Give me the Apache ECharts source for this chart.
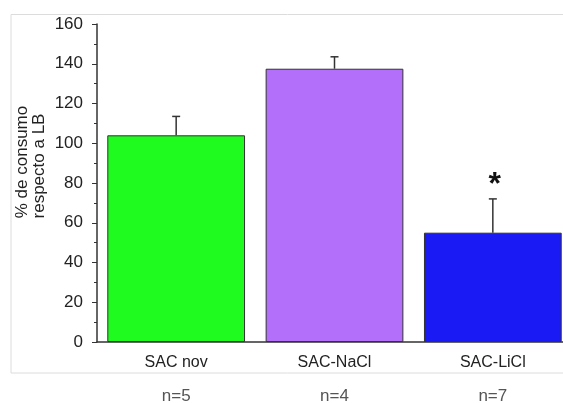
<!DOCTYPE html>
<html>
<head>
<meta charset="utf-8">
<script src="https://cdn.jsdelivr.net/npm/echarts@6/dist/echarts.min.js"></script>
<style>
  html, body { margin: 0; padding: 0; background: #fff; }
  #chart { width: 563px; height: 403px; }
</style>
</head>
<body>
<div id="chart"></div>
<script>
// datos
var categories = ["SAC nov", "SAC-NaCl", "SAC-LiCl"];
var nValues = [5, 4, 7];
var means = [104, 137.5, 55];
var errors = [9.5, 6, 17];
var marks = ["", "", "*"];
var barColors = ["#1ffa1f", "#b46ffa", "#1a1af5"];

var myChart = echarts.init(document.getElementById("chart"));

var barData = [];
var errData = [];
for (var i = 0; i < categories.length; i++) {
  barData.push({ value: means[i], itemStyle: { color: barColors[i] } });
  errData.push([i, means[i], errors[i]]);
}

var option = {
  animation: false,
  textStyle: { fontFamily: "Liberation Sans" },
  graphic: [
    {
      type: "rect",
      shape: { x: 11, y: 14.5, width: 560, height: 358.5 },
      style: { fill: "none", stroke: "#dcdcdc", lineWidth: 1 },
      silent: true,
      z: -1
    },
    {
      type: "text",
      x: 22, y: 162, rotation: Math.PI / 2,
      style: { text: "% de consumo", fontSize: 17, fill: "#222", align: "center", verticalAlign: "middle", fontFamily: "Liberation Sans" }
    },
    {
      type: "text",
      x: 39, y: 166, rotation: Math.PI / 2,
      style: { text: "respecto a LB", fontSize: 17, fill: "#222", align: "center", verticalAlign: "middle", fontFamily: "Liberation Sans" }
    }
  ],
  grid: { left: 97, top: 24, width: 475, height: 318, outerBoundsMode: "none" },
  xAxis: {
    type: "category",
    data: categories,
    axisLine: { lineStyle: { color: "#333", width: 1.5 } },
    axisTick: { alignWithLabel: true, length: 3, lineStyle: { color: "#333" } },
    axisLabel: {
      margin: 5,
      formatter: function (v, idx) {
        return "{a|" + v + "}\n{b|n=" + nValues[idx] + "}";
      },
      rich: {
        a: { fontSize: 16, lineHeight: 32, color: "#222", fontFamily: "Liberation Sans" },
        b: { fontSize: 17, lineHeight: 34, color: "#555", fontFamily: "Liberation Sans" }
      }
    }
  },
  yAxis: {
    type: "value",
    min: 0,
    max: 160,
    interval: 20,
    axisLine: { show: true, lineStyle: { color: "#333", width: 1.5 } },
    axisTick: { show: true, length: 5, lineStyle: { color: "#333" } },
    minorTick: { show: true, splitNumber: 2, length: 3, lineStyle: { color: "#333" } },
    splitLine: { show: false },
    axisLabel: { fontSize: 17, color: "#222", margin: 14 }
  },
  series: [
    {
      type: "bar",
      barWidth: "87%",
      data: barData,
      itemStyle: { borderColor: "#333", borderWidth: 1 }
    },
    {
      type: "custom",
      data: errData,
      z: 5,
      renderItem: function (params, api) {
        var idx = api.value(0);
        var m = api.value(1);
        var e = api.value(2);
        var base = api.coord([idx, m]);
        var top = api.coord([idx, m + e]);
        var children = [
          { type: "line", shape: { x1: base[0], y1: base[1], x2: top[0], y2: top[1] }, style: { stroke: "#333", lineWidth: 1.5 } },
          { type: "line", shape: { x1: top[0] - 4, y1: top[1], x2: top[0] + 4, y2: top[1] }, style: { stroke: "#333", lineWidth: 1.5 } }
        ];
        var mk = marks[params.dataIndex];
        if (mk) {
          children.push({
            type: "text",
            x: top[0] + 2, y: top[1] + 2,
            style: { text: mk, fontSize: 32, fontWeight: "bold", fill: "#111", align: "center", verticalAlign: "bottom", fontFamily: "Liberation Sans" }
          });
        }
        return { type: "group", children: children };
      }
    }
  ]
};
myChart.setOption(option);
</script>
</body>
</html>
